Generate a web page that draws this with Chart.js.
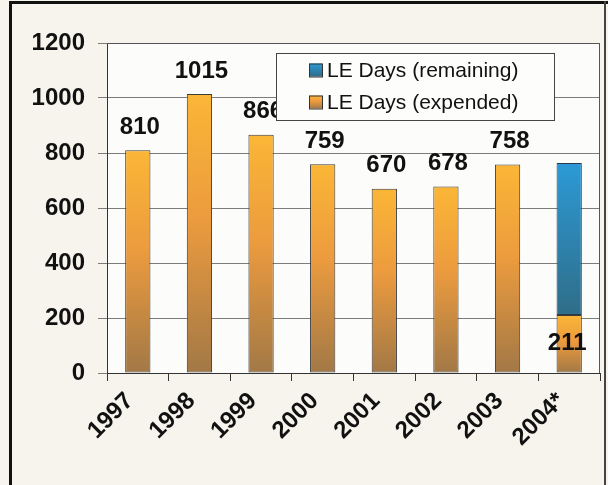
<!DOCTYPE html>
<html>
<head>
<meta charset="utf-8">
<script src="https://cdn.jsdelivr.net/npm/chart.js@4/dist/chart.umd.min.js"></script>
<style>
  html, body { margin: 0; padding: 0; background: #f6f4ec; }
  canvas { display: block; }
</style>
</head>
<body>
<canvas id="chart" width="608" height="485"></canvas>
<script>
// data
const years = ['1997', '1998', '1999', '2000', '2001', '2002', '2003', '2004*'];
const expended = [810, 1015, 866, 759, 670, 678, 758, 211];
const remaining = [null, null, null, null, null, null, null, 553];
const yMin = 0;
const yMax = 1200;
const yStep = 200;

const FONT = '"Liberation Sans", Arial, sans-serif';

// vertical gradient per bar, bright on top, darker at the base
function barGradient(stops, fallback) {
    return function (c) {
        const chart = c.chart;
        const y = chart.scales && chart.scales.y;
        if (!chart.chartArea || !y || c.raw == null) return fallback;
        let base = 0;
        if (c.datasetIndex === 1) base = expended[c.dataIndex] || 0;
        const yTop = y.getPixelForValue(base + c.raw);
        const yBot = y.getPixelForValue(base);
        const g = chart.ctx.createLinearGradient(0, yTop, 0, yBot);
        stops.forEach(s => g.addColorStop(s[0], s[1]));
        return g;
    };
}

const orangeStops = [[0, '#fbb636'], [0.45, '#ec9b3e'], [1, '#a27846']];
const blueStops = [[0, '#2c9ad6'], [1, '#2f6d88']];

// paper background, plot area fill and the outer frame
const framePlugin = {
    id: 'frame',
    beforeDraw(chart) {
        const ctx = chart.ctx;
        const a = chart.chartArea;
        ctx.save();
        ctx.fillStyle = '#f6f4ec';
        ctx.fillRect(0, 0, chart.width, chart.height);
        ctx.fillStyle = '#fcfcfa';
        ctx.fillRect(a.left, a.top, a.right - a.left, a.bottom - a.top);
        ctx.fillStyle = '#111';
        ctx.fillRect(9, 1, 3, chart.height);
        ctx.fillRect(9, 1, chart.width - 9, 3);
        ctx.fillStyle = '#444';
        ctx.fillRect(chart.width - 4, 1, 2, chart.height);
        ctx.restore();
    },
    afterDatasetsDraw(chart) {
        const ctx = chart.ctx;
        const a = chart.chartArea;
        ctx.save();
        ctx.strokeStyle = '#555';
        ctx.lineWidth = 1;
        ctx.beginPath();
        ctx.moveTo(a.left, a.top + 0.5);
        ctx.lineTo(a.right - 0.5, a.top + 0.5);
        ctx.lineTo(a.right - 0.5, a.bottom);
        ctx.stroke();
        ctx.restore();
    }
};

// value labels: above the bar, or centred inside when the bar is stacked
const valuePlugin = {
    id: 'values',
    afterDatasetsDraw(chart) {
        const ctx = chart.ctx;
        const meta = chart.getDatasetMeta(0);
        ctx.save();
        ctx.font = 'bold 24px ' + FONT;
        ctx.fillStyle = '#111';
        ctx.textAlign = 'center';
        meta.data.forEach((bar, i) => {
            const v = expended[i];
            if (remaining[i] != null) {
                ctx.textBaseline = 'middle';
                ctx.fillText(String(v), bar.x - 2, (bar.y + bar.base) / 2);
            } else {
                ctx.textBaseline = 'bottom';
                ctx.fillText(String(v), bar.x + 2, bar.y - 11);
            }
        });
        ctx.restore();
    }
};

// boxed legend in the upper right of the plot
const legendPlugin = {
    id: 'boxLegend',
    afterDraw(chart) {
        const ctx = chart.ctx;
        const a = chart.chartArea;
        const w = 278, h = 67;
        const x = a.right - 46 - w;
        const y = a.top + 10;
        ctx.save();
        ctx.fillStyle = '#fdfdfb';
        ctx.fillRect(x, y, w, h);
        ctx.strokeStyle = '#444';
        ctx.lineWidth = 1;
        ctx.strokeRect(x + 0.5, y + 0.5, w, h);
        const items = [
            { ds: chart.data.datasets[1], stops: blueStops },
            { ds: chart.data.datasets[0], stops: orangeStops }
        ];
        ctx.font = '21px ' + FONT;
        ctx.textBaseline = 'middle';
        ctx.textAlign = 'left';
        items.forEach((it, k) => {
            const cy = y + 17 + k * 32;
            const sx = x + 33, sz = 13;
            const g = ctx.createLinearGradient(0, cy - sz / 2, 0, cy + sz / 2);
            it.stops.forEach(s => g.addColorStop(s[0], s[1]));
            ctx.fillStyle = g;
            ctx.fillRect(sx, cy - sz / 2, sz, sz);
            ctx.strokeStyle = '#333';
            ctx.strokeRect(sx + 0.5, cy - sz / 2 + 0.5, sz, sz);
            ctx.fillStyle = '#111';
            ctx.fillText(it.ds.label, sx + sz + 5, cy + 1);
        });
        ctx.restore();
    }
};

new Chart(document.getElementById('chart').getContext('2d'), {
    type: 'bar',
    data: {
        labels: years,
        datasets: [
            {
                label: 'LE Days (expended)',
                data: expended,
                backgroundColor: barGradient(orangeStops, '#e89a3e'),
                borderColor: '#3a3a3a',
                borderWidth: 1,
                borderSkipped: false,
                categoryPercentage: 1,
                barPercentage: 0.41
            },
            {
                label: 'LE Days (remaining)',
                data: remaining,
                backgroundColor: barGradient(blueStops, '#2b86b8'),
                borderColor: '#2a3a4a',
                borderWidth: 1,
                borderSkipped: false,
                categoryPercentage: 1,
                barPercentage: 0.41
            }
        ]
    },
    options: {
        responsive: false,
        animation: false,
        layout: { padding: { left: 10, top: 43, right: 8, bottom: 0 } },
        plugins: {
            legend: { display: false },
            tooltip: { enabled: false },
            title: { display: false }
        },
        scales: {
            x: {
                stacked: true,
                grid: {
                    display: true,
                    drawOnChartArea: false,
                    drawTicks: true,
                    tickLength: 8,
                    color: '#333',
                    offset: true
                },
                border: { display: true, color: '#333', width: 1 },
                ticks: {
                    color: '#111',
                    font: { family: FONT, size: 24, weight: 'bold' },
                    minRotation: 45,
                    maxRotation: 45,
                    padding: 6,
                    labelOffset: -8,
                    autoSkip: false
                },
                afterFit(scale) { scale.height = 112; }
            },
            y: {
                stacked: true,
                min: yMin,
                max: yMax,
                grid: {
                    color: '#7c7c7c',
                    lineWidth: 1,
                    drawTicks: true,
                    tickLength: 9
                },
                border: { display: true, color: '#333', width: 1 },
                ticks: {
                    stepSize: yStep,
                    color: '#111',
                    font: { family: FONT, size: 24, weight: 'bold' },
                    padding: 13,
                    callback: v => String(v)
                },
                afterFit(scale) { scale.width = 97; }
            }
        }
    },
    plugins: [framePlugin, valuePlugin, legendPlugin]
});
</script>
</body>
</html>
